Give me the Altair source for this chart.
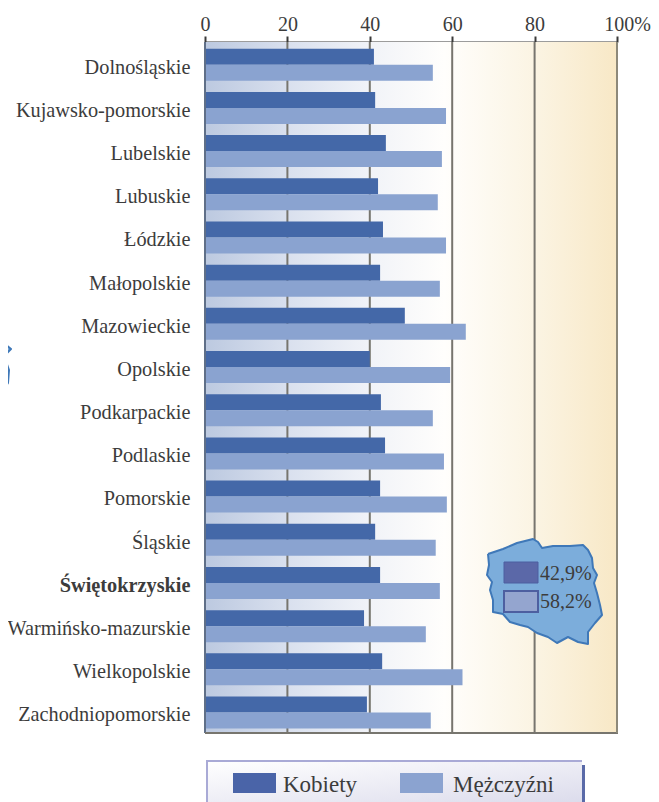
import altair as alt
import pandas as pd

regions = ["Dolnośląskie", "Kujawsko-pomorskie", "Lubelskie", "Lubuskie", "Łódzkie", "Małopolskie",
           "Mazowieckie", "Opolskie", "Podkarpackie", "Podlaskie", "Pomorskie", "Śląskie",
           "Świętokrzyskie", "Warmińsko-mazurskie", "Wielkopolskie", "Zachodniopomorskie"]
kobiety = [41.0, 41.3, 43.9, 42.0, 43.2, 42.5, 48.5, 40.0, 42.7, 43.7, 42.5, 41.3, 42.5, 38.6, 43.0, 39.3]
mezczyzni = [55.3, 58.5, 57.5, 56.5, 58.5, 57.0, 63.3, 59.5, 55.3, 58.0, 58.7, 56.0, 57.0, 53.6, 62.5, 54.8]
series = ["Kobiety", "Mężczyźni"]
series_colors = ["#4468a8", "#8aa3d0"]
x_ticks = [0, 20, 40, 60, 80, 100]

# Map outlines, in page pixels of the reference
poland_x = [488, 503, 517, 533, 538, 542, 553, 570, 583, 588, 592, 593, 597, 594, 597, 600, 602, 595, 588, 588, 578, 568, 557, 548, 537, 528, 520, 510, 503, 493, 493, 490, 492, 487, 489]
poland_y = [554, 549, 543, 539, 542, 548, 546, 546, 545, 550, 558, 568, 575, 583, 593, 605, 615, 623, 632, 644, 642, 637, 643, 637, 633, 627, 625, 622, 614, 612, 600, 590, 582, 575, 565]
edge_x = [0, 5, 11, 4, 9, 8, 3, 0]
edge_y = [340, 344, 349, 356, 370, 383, 390, 391]

W, H = 412, 691
LEFT, TOP = 205, 42
SERIF = "Liberation Serif"
TXT = "#3c3c3c"


def px(v):
    return (v - LEFT) / W * 100


def py(v):
    return (v - TOP) / H * 16


X = alt.Scale(domain=[0, 100], nice=False, zero=False)
Y = alt.Scale(domain=[16, 0], nice=False, zero=False)
X_AXIS = alt.Axis(
    orient="top", values=x_ticks, title=None, grid=False, domain=True, domainColor="#3a3a3a",
    domainWidth=2, tickColor="#3a3a3a", tickWidth=2, tickSize=6, labelFont=SERIF, labelFontSize=20,
    labelColor=TXT, labelPadding=2, labelAngle=0, labelFlush=False, labelOverlap=False,
    labelExpr="datum.value == 100 ? '100%' : datum.label",
    labelOffset={"expr": "datum.value == 100 ? 10 : 0"})


def xq(field="x"):
    return alt.X(f"{field}:Q", scale=X, axis=X_AXIS)


bars = pd.DataFrame(
    [{"region": r, "series": series[0], "value": k} for r, k in zip(regions, kobiety)]
    + [{"region": r, "series": series[1], "value": m} for r, m in zip(regions, mezczyzni)]
)


def rect(l, t, r, b, **mark):
    d = pd.DataFrame([{"x": px(l), "x2": px(r), "y": py(t), "y2": py(b)}])
    return alt.Chart(d).mark_rect(**mark).encode(
        x=xq(), x2="x2:Q",
        y=alt.Y("y:Q", scale=Y, axis=None), y2="y2:Q")


def label(text, l, b, size, **mark):
    d = pd.DataFrame([{"x": px(l), "y": py(b), "t": text}])
    return alt.Chart(d).mark_text(align="left", baseline="alphabetic", font=SERIF, fontSize=size,
                                  color=TXT, **mark).encode(
        x=xq(), y=alt.Y("y:Q", scale=Y, axis=None), text="t:N")


def outline(xs, ys):
    d = pd.DataFrame({"x": [px(v) for v in xs] + [px(xs[0])], "y": [py(v) for v in ys] + [py(ys[0])]})
    d["o"] = range(len(d))
    return alt.Chart(d).mark_line(fill="#7caddb", stroke="#3f78b8", strokeWidth=2, interpolate="linear",
                                  strokeJoin="round").encode(
        x=xq(), y=alt.Y("y:Q", scale=Y, axis=None), order="o:Q")


bg_grad = alt.Gradient(gradient="linear", x1=0, x2=1, y1=0, y2=0, stops=[
    alt.GradientStop(offset=0, color="#bcc9e0"),
    alt.GradientStop(offset=0.2, color="#d9e0ee"),
    alt.GradientStop(offset=0.4, color="#f1f3f8"),
    alt.GradientStop(offset=0.58, color="#fffefc"),
    alt.GradientStop(offset=0.8, color="#fbf4e3"),
    alt.GradientStop(offset=1, color="#f8e8c6"),
])
background = rect(LEFT, TOP, LEFT + W, TOP + H, fill=bg_grad)

grid = alt.Chart(pd.DataFrame({"x": x_ticks[1:], "y": 0, "y2": 16})).mark_rule(color="#77756e", strokeWidth=2).encode(
    x=xq(), y=alt.Y("y:Q", scale=Y, axis=None), y2="y2:Q")

bar_layer = alt.Chart(bars).mark_bar().encode(
    y=alt.Y("region:N", sort=regions, scale=alt.Scale(paddingInner=0, paddingOuter=0), axis=alt.Axis(
        title=None, domain=False, ticks=False, labelFont=SERIF, labelFontSize=20.3, labelColor=TXT,
        labelPadding=15, labelLimit=300, labelOffset=4,
        labelFontWeight={"expr": "datum.label == 'Świętokrzyskie' ? 'bold' : 'normal'"})),
    yOffset=alt.YOffset("series:N", sort=series, scale=alt.Scale(paddingInner=0, paddingOuter=0.35, align=0.6)),
    x=alt.X("value:Q", scale=X, axis=X_AXIS),
    color=alt.Color("series:N", sort=series, scale=alt.Scale(domain=series, range=series_colors), legend=None),
)

frame = [
    rect(LEFT - 1, TOP, LEFT + 1, TOP + H, fill="#5f6f88"),
    rect(LEFT, TOP + H - 1, LEFT + W + 1, TOP + H + 1, fill="#77756e"),
    rect(LEFT + W - 1, TOP, LEFT + W + 1, TOP + H, fill="#8d897a"),
]

poland = [
    outline(poland_x, poland_y),
    outline(edge_x, edge_y),
    rect(504, 562, 538, 583, fill="#5b68a8", stroke="#4d5fa0", strokeWidth=1),
    rect(504, 591, 538, 612, fill="#94a5cf", stroke="#4d5fa0", strokeWidth=2),
    label("42,9%", 540, 580, 20),
    label("58,2%", 540, 608, 20),
]

box_grad = alt.Gradient(gradient="linear", x1=0, x2=1, y1=0, y2=1, stops=[
    alt.GradientStop(offset=0, color="#ffffff"),
    alt.GradientStop(offset=1, color="#dcdcec"),
])
legend = [
    rect(207, 761, 582, 802, fill=box_grad),
    rect(206, 760, 582, 762, fill="#a9aad6"),
    rect(206, 760, 208, 802, fill="#a9aad6"),
    rect(582, 765, 585, 802, fill="#5a6aa8"),
    rect(233, 773, 276, 793, fill="#4a64a8"),
    rect(400, 773, 443, 793, fill="#8ba3d0"),
    label("Kobiety", 283, 792, 23),
    label("Mężczyźni", 453, 792, 23),
]

chart = alt.layer(background, grid, bar_layer, *frame, *poland, *legend).resolve_scale(
    y="independent", color="independent"
).properties(
    width=W, height=H,
    autosize=alt.AutoSizeParams(type="none"),
    padding={"left": 197, "top": 34, "right": 34, "bottom": 69},
    background="white",
).configure_view(stroke=None)

chart.save("out.html", embed_options={"renderer": "svg", "actions": False})
